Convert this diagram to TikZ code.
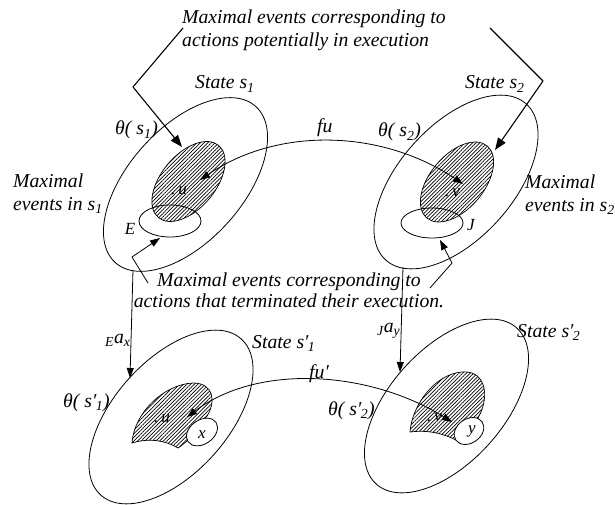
\documentclass[tikz,border=0pt]{standalone}
\usepackage{fontspec}
\setmainfont{Liberation Serif}
\usetikzlibrary{shapes.geometric,arrows.meta,patterns.meta}
\newcommand\primed[2]{#1\char"2032\kern-0.5pt\textsubscript{#2}}
\begin{document}
\begin{tikzpicture}[x=1pt,y=-1pt,
  every node/.style={font=\fontsize{19.7}{23}\selectfont\itshape, inner sep=0pt},
  state/.style={draw, ellipse, minimum width=210pt, minimum height=114pt, line width=0.8pt},
  hatch/.style={draw, ellipse, minimum width=94pt, minimum height=54pt, line width=0.7pt,
                pattern={Lines[angle=45,distance=2.6pt,line width=0.7pt]}},
  blob/.style={draw, line width=0.7pt, pattern={Lines[angle=45,distance=2.6pt,line width=0.7pt]}},
  small/.style={draw, ellipse, line width=0.8pt},
  smalltext/.style={font=\fontsize{17}{19}\selectfont\itshape},
  arr/.style={line width=0.8pt, -{Triangle[length=10pt,width=7pt]}},
  darr/.style={line width=0.8pt, {Triangle[length=10pt,width=7pt]}-{Triangle[length=10pt,width=7pt]}},
  ptr/.style={line width=1.1pt},
  parr/.style={line width=1.1pt, -{Triangle[length=12pt,width=9pt]}},
]
\useasboundingbox (0,0) rectangle (615,505);

% outer states
\node[state, rotate=48] (S1) at (185.5,184.5) {};
\node[state, rotate=48] (S2) at (456,182) {};
\node[state, rotate=48] (S3) at (171,417) {};
\node[state, rotate=48] (S4) at (446.5,406) {};

% hatched regions (top)
\node[hatch, rotate=50] (H1) at (188.5,181.5) {};
\node[hatch, rotate=50] (H2) at (457,182) {};
\node[small, minimum width=62pt, minimum height=32pt] (E1) at (170,221) {};
\node[small, minimum width=62pt, minimum height=30pt] (J1) at (432,223) {};

% hatched regions (bottom)
\path[blob] (132,443) .. controls (134,412) and (165,384) .. (193,383)
  .. controls (214,383) and (216,402) .. (207,416)
  .. controls (200,428) and (190,440) .. (178,448)
  .. controls (165,440) and (148,438) .. (132,443) -- cycle;
\node[small, fill=white, minimum width=34pt, minimum height=24pt, rotate=35] (X1) at (202,432) {};
\path[blob] (410,432) .. controls (412,405) and (435,374) .. (462,372)
  .. controls (482,370) and (490,390) .. (481,412)
  .. controls (475,425) and (466,434) .. (456,440)
  .. controls (440,432) and (425,430) .. (410,432) -- cycle;
\node[small, fill=white, minimum width=32pt, minimum height=24pt, rotate=35] (Y1) at (469,431) {};

% small labels
\node[smalltext, anchor=base west] (u1) at (171,194) {.\,u};
\node[smalltext, anchor=base west] (v1) at (445,196) {.\,v};
\node[smalltext, anchor=base west] (u2) at (154,422) {.\,u};
\node[smalltext, anchor=base west] (v2) at (427,421) {.\,v};
\node[smalltext] (El) at (130,229) {E};
\node[smalltext] (Jl) at (471,225) {J};
\node[smalltext] (xl) at (202,435) {x};
\node[smalltext] (yl) at (472,431) {y};

% curved mappings
\coordinate (fa) at (200,180);
\coordinate (fb) at (463,184);
\draw[darr] (fa) .. controls (279,126) and (383,130) .. (fb);
\coordinate (ga) at (187,417);
\coordinate (gb) at (452,422);
\draw[darr] (ga) .. controls (260,362) and (372,372) .. (gb);

% vertical arrows
\coordinate (va1) at (133,270);
\coordinate (vb1) at (130,378);
\draw[arr] (va1) -- (vb1);
\coordinate (va2) at (403,267);
\coordinate (vb2) at (400,372);
\draw[arr] (va2) -- (vb2);

% top callout
\node[anchor=north west, align=left] (C1) at (182,10)
  {Maximal events corresponding to\\actions potentially in execution};
\coordinate (p1) at (183,28);
\coordinate (k1) at (133,87);
\coordinate (t1) at (182,147);
\draw[ptr] (p1) -- (k1);
\draw[parr] (k1) -- (t1);
\coordinate (p2) at (490,28);
\coordinate (k2) at (543,81);
\coordinate (t2) at (495,150);
\draw[ptr] (p2) -- (k2);
\draw[parr] (k2) -- (t2);

% bottom callout
\node[align=center, anchor=north, font=\fontsize{19.7}{21}\selectfont\itshape] (C2) at (289,273)
  {Maximal events corresponding to\\actions that terminated their execution.};
\coordinate (q1) at (148,283);
\coordinate (m1) at (132,257);
\coordinate (r1) at (160,238);
\draw[line width=0.8pt] (q1) -- (m1);
\draw[arr] (m1) -- (r1);
\coordinate (q2) at (430,288);
\coordinate (m2) at (452,263);
\coordinate (r2) at (440,240);
\draw[line width=0.8pt] (q2) -- (m2);
\draw[arr] (m2) -- (r2);

% labels
\node[anchor=base west] (L1) at (195,89) {State s\textsubscript{1}};
\node[anchor=base west] (L2) at (465,89) {State s\textsubscript{2}};
\node[anchor=base west] (L3) at (252,348) {State \primed{s}{1}};
\node[anchor=base west] (L4) at (517,337) {State \primed{s}{2}};
\node[anchor=base west] (T1) at (115,135) {θ( s\textsubscript{1})};
\node[anchor=base west] (T2) at (378,137) {θ( s\textsubscript{2})};
\node[anchor=base west] (T3) at (63,407) {θ( \primed{s}{1})};
\node[anchor=base west] (T4) at (328,415) {θ( \primed{s}{2})};
\node[anchor=base west] (F1) at (317,133) {fu};
\node[anchor=base west] (F2) at (309,378) {fu\char"2032};
\node[anchor=base west] (A1) at (105,343) {\textsubscript{E}a\textsubscript{x}};
\node[anchor=base west] (A2) at (377,332) {\textsubscript{J}a\textsubscript{y}};
\node[anchor=north west, align=left] (M1) at (13,174) {Maximal\\events in s\textsubscript{1}};
\node[anchor=north west, align=left] (M2) at (525,175) {Maximal\\events in s\textsubscript{2}};
\end{tikzpicture}
\end{document}
